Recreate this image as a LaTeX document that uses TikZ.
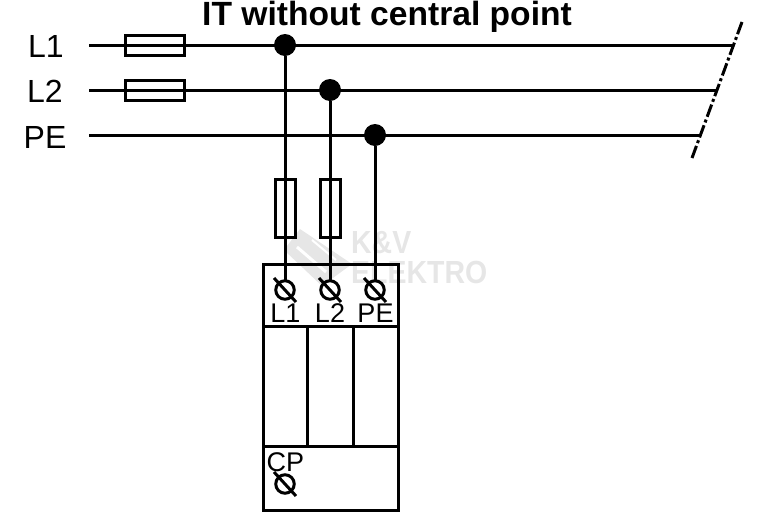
\documentclass[tikz,border=0pt]{standalone}
\usepackage{fontspec}
\setmainfont{Liberation Sans}
\definecolor{wm}{HTML}{E6E6E6}
\tikzset{
  wire/.style={line width=3pt,black},
  fusebox/.style={draw=black,line width=3pt,inner sep=0pt,outer sep=0pt,rectangle},
  hfuse/.style={fusebox,minimum width=59pt,minimum height=20pt},
  vfuse/.style={fusebox,minimum width=20pt,minimum height=58pt},
  joint/.style={circle,fill=black,minimum size=22pt,inner sep=0pt,outer sep=0pt},
  term/.style={circle,draw=black,line width=3pt,minimum size=18.5pt,inner sep=0pt,outer sep=0pt},
  biglabel/.style={font=\fontsize{32}{32}\selectfont,anchor=base,inner sep=0pt},
  smalllabel/.style={font=\fontsize{27}{27}\selectfont,anchor=base,inner sep=0pt},
  wmlabel/.style={font=\bfseries\fontsize{32}{32}\selectfont,text=wm,anchor=base west,inner sep=0pt,xscale=0.89,transform shape},
  breakline/.style={line width=3pt,black,dash pattern=on 13pt off 3pt on 3pt off 3pt}
}
\begin{document}
\begin{tikzpicture}[x=1pt,y=-1pt]
\useasboundingbox (0,0) rectangle (768,512);
% watermark
\fill[wm] (300,229) -- (352,264) -- (322,286) -- (284,250) -- cycle;
\draw[white,line width=3pt] (297,247) -- (326,272);
\draw[white,line width=2pt] (312,240) -- (336,260);
\node[wmlabel] (wmA) at (351,253) {K\&V};
\node[wmlabel] (wmB) at (351,283) {ELEKTRO};
% title
\node[font=\bfseries\fontsize{33.6}{33.6}\selectfont,anchor=base,inner sep=0pt] (title) at (387,25) {IT without central point};
% labels
\node[biglabel] (lL1) at (46,57) {L1};
\node[biglabel] (lL2) at (45,102) {L2};
\node[biglabel] (lPE) at (45,148) {PE};
% anchors
\coordinate (s1) at (89,45);
\coordinate (s2) at (89,90);
\coordinate (s3) at (89,135);
\coordinate (e1) at (734,45);
\coordinate (e2) at (718,90);
\coordinate (e3) at (701,135);
\coordinate (bA) at (742,22);
\coordinate (bB) at (692,158);
\node[joint] (d1) at (285,45) {};
\node[joint] (d2) at (330,90) {};
\node[joint] (d3) at (375,135) {};
\node[term] (t1) at (285,290) {};
\node[term] (t2) at (330,290) {};
\node[term] (t3) at (375,290) {};
\node[term] (t4) at (285,484) {};
% wires
\draw[wire] (s1) -- (e1);
\draw[wire] (s2) -- (e2);
\draw[wire] (s3) -- (e3);
\draw[wire] (d1) -- (t1);
\draw[wire] (d2) -- (t2);
\draw[wire] (d3) -- (t3);
\draw[breakline] (bA) -- (bB);
% fuses
\node[hfuse] (f1) at (154.5,45) {};
\node[hfuse] (f2) at (154.5,90) {};
\node[vfuse] (f3) at (285,208) {};
\node[vfuse] (f4) at (330,208) {};
% device
\node[draw=black,line width=3pt,minimum width=135pt,minimum height=246pt,inner sep=0pt,outer sep=0pt,anchor=north west] (dev) at (263,264) {};
\coordinate (a1) at (263,326);
\coordinate (a2) at (398,326);
\coordinate (a3) at (263,446);
\coordinate (a4) at (398,446);
\coordinate (v1) at (307,326);
\coordinate (v2) at (307,446);
\coordinate (v3) at (353,326);
\coordinate (v4) at (353,446);
\draw[wire] (a1) -- (a2);
\draw[wire] (a3) -- (a4);
\draw[wire] (v1) -- (v2);
\draw[wire] (v3) -- (v4);
% terminal slashes
\foreach \t in {t1,t2,t3,t4}{
  \draw[wire] ([shift={(-11,-12)}]\t.center) -- ([shift={(11,12)}]\t.center);
}
% device labels
\node[smalllabel] (k1) at (285.5,322) {L1};
\node[smalllabel] (k2) at (330,322) {L2};
\node[smalllabel] (k3) at (375.5,322) {PE};
\node[smalllabel] (k4) at (285.5,471) {CP};
\end{tikzpicture}
\end{document}
